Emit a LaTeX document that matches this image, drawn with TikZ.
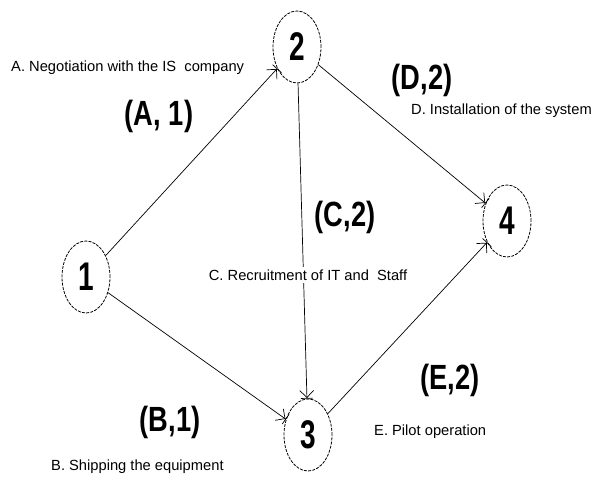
\documentclass[tikz,border=0pt]{standalone}
\usepackage{fontspec}
\setmainfont{Liberation Sans}
\usetikzlibrary{shapes.geometric,arrows.meta}
\tikzset{
  event/.style={ellipse,draw,dashed,dash pattern=on 3pt off 1.2pt,line width=0.8pt,
    minimum width=48pt,minimum height=72pt,inner sep=0pt,
    font=\fontsize{40}{40}\selectfont\bfseries},
  act/.style={line width=0.7pt,-{Straight Barb[length=7pt,width=14pt]Bar[width=12pt]}},
  pair/.style={inner sep=0pt,font=\fontsize{35}{35}\selectfont\bfseries},
  desc/.style={inner sep=1pt,font=\fontsize{14.7}{15}\selectfont}
}
\newcommand{\nar}[2]{\scalebox{#1}[1]{#2}}
\begin{document}
\begin{tikzpicture}[x=1pt,y=-1pt]
\useasboundingbox (0,0) rectangle (595,479);
\node[event] (n1) at (86,277) {\nar{0.7}{1}};
\node[event] (n2) at (297,47) {\nar{0.7}{2}};
\node[event] (n3) at (308,435) {\nar{0.7}{3}};
\node[event] (n4) at (507,221) {\nar{0.7}{4}};
\draw[act] (n1) -- (n2);
\draw[act] (n1) -- (n3);
\draw[act] (n2) -- (n3);
\draw[act] (n2) -- (n4);
\draw[act] (n3) -- (n4);
\node[desc,anchor=west] (ta) at (10,68) {A. Negotiation with the IS\ \ company};
\node[pair] (la) at (159,116) {\nar{0.78}{(A, 1)}};
\node[pair] (ld) at (422,80) {\nar{0.78}{(D,2)}};
\node[desc,anchor=west] (td) at (410,111) {D. Installation of the system};
\node[pair] (lc) at (345,217) {\nar{0.78}{(C,2)}};
\node[desc,fill=white,inner sep=3pt] (tc) at (308,275) {C. Recruitment of IT and\ \ Staff};
\node[pair] (lb) at (170,422) {\nar{0.78}{(B,1)}};
\node[desc,anchor=west] (tb) at (50,467) {B. Shipping the equipment};
\node[pair] (le) at (450,380) {\nar{0.78}{(E,2)}};
\node[desc,anchor=west] (te) at (373,432) {E. Pilot operation};
\end{tikzpicture}
\end{document}
